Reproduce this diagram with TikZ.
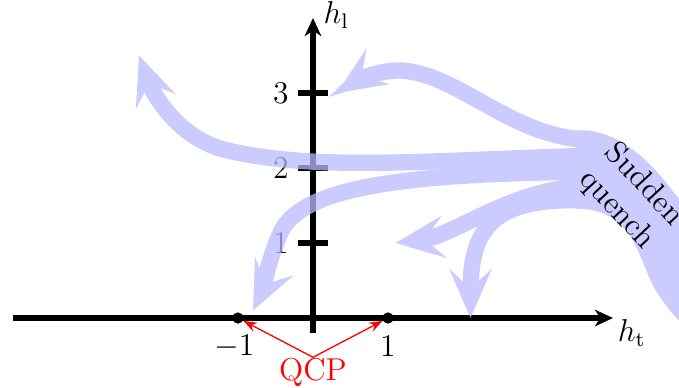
\documentclass[tikz,border=0pt]{standalone}
\usepackage{amsmath}
\usetikzlibrary{arrows.meta}
\definecolor{flow}{RGB}{185,185,255}
\definecolor{qcpred}{RGB}{255,0,0}

\begin{document}
\begin{tikzpicture}[
  axis/.style={line width=2pt,-{Stealth[length=2.4mm,width=2.2mm,inset=0.7mm]}},
  tick/.style={line width=2.6pt},
  dot/.style={circle,fill,inner sep=0pt,minimum size=1.5mm},
  lbl/.style={font=\large},
  band/.style={fill=flow,draw=none},
  flowarr/.style={draw=flow,line width=6.2pt,
                  -{Stealth[length=6.5mm,width=5.6mm,inset=2.6mm,fill=flow]}},
  qarr/.style={qcpred,line width=0.5pt,-{Stealth[length=1.8mm,width=1.3mm]}}
]
\useasboundingbox (-4.173,-0.92) rectangle (4.88,4.24);
\clip (-4.173,-0.92) rectangle (4.88,4.24);

% axes
\draw[axis] (-4,0) -- (4,0);
\draw[axis] (0,-0.2) -- (0,4);
\node[lbl] (ht) at (4.25,-0.2) {$h_\mathrm{t}$};
\node[lbl] (hl) at (0.31,4.04) {$h_\mathrm{l}$};
\foreach \y in {1,2,3} {
  \draw[tick] (-0.2,\y) -- (0.2,\y);
  \node[lbl,left] (l\y) at (-0.2,\y) {$\y$};
}

% critical points
\node[dot] (qm) at (-1,0) {};
\node[dot] (qp) at (1,0) {};
\node[lbl] (lm) at (-1.05,-0.38) {$-1$};
\node[lbl] (lp) at (1,-0.38) {$1$};
\node[lbl,text=qcpred,inner sep=0pt] (qcp) at (0,-0.72) {QCP};
\draw[qarr] (qcp.north) -- (qm);
\draw[qarr] (qcp.north) -- (qp);

% quench flows
\begin{scope}[transparency group,opacity=0.75]
  \path[band] (3.5,2.5) .. controls (4.0,2.54) and (4.45,2.15) .. (4.75,1.75)
    .. controls (4.95,1.5) and (5.1,1.3) .. (5.2,1.2) -- (5.2,-0.3)
    .. controls (4.9,-0.1) and (4.7,0.15) .. (4.55,0.4)
    .. controls (4.3,0.9) and (4.25,1.45) .. (3.5,1.46) -- cycle;
  \draw[flowarr] (3.6,2.38) .. controls (2.6,2.45) and (1.9,3.28) .. (1.15,3.3)
    .. controls (0.85,3.3) and (0.55,3.15) .. (0.32,3.0);
  \draw[flowarr] (3.6,2.16) .. controls (1.5,2.1) and (0,1.95) .. (-1.2,2.25)
    .. controls (-1.75,2.4) and (-2.1,2.9) .. (-2.32,3.5);
  \draw[flowarr] (3.6,1.95) .. controls (1.2,1.92) and (-0.2,1.75) .. (-0.45,1.1)
    .. controls (-0.6,0.75) and (-0.68,0.35) .. (-0.8,0.1);
  \draw[flowarr] (3.6,1.76) .. controls (2.6,1.7) and (1.9,1.1) .. (1.1,1.0);
  \draw[flowarr] (3.6,1.57) .. controls (2.4,1.6) and (2.1,1.2) .. (2.1,0.0);
\end{scope}
\node[lbl,rotate=-47,align=center] (sq) at (4.23,1.61) {Sudden\\quench};
\end{tikzpicture}
\end{document}
